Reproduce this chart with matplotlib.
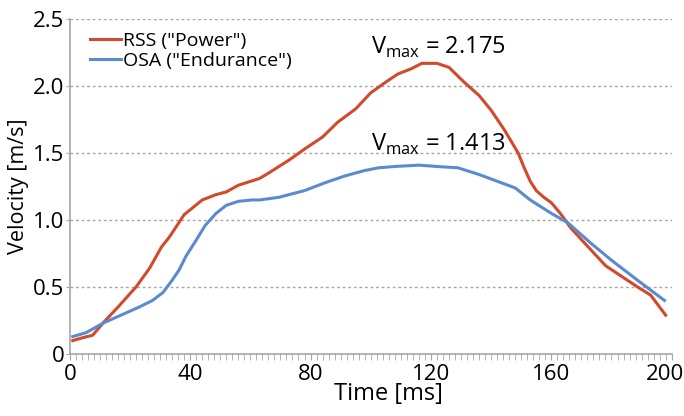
import matplotlib
matplotlib.use("Agg")
import matplotlib.pyplot as plt
from matplotlib.ticker import MultipleLocator
import matplotlib.transforms as mtransforms

plt.rcParams['font.family'] = ['Open Sans', 'DejaVu Sans']

# RSS ("Power") curve
t_rss = [1, 4, 7.6, 11, 16, 22, 26.5, 30.5, 33, 38, 44, 48.6, 52, 56, 63, 66, 73, 78,
         84, 89, 95, 100, 105, 109, 113.5, 117, 122, 126, 131, 136, 140, 144.5, 149,
         151, 153, 155, 157.5, 160, 163, 166.5, 171, 178, 184, 188.7, 193, 195, 198]
v_rss = [0.10, 0.12, 0.14, 0.23, 0.35, 0.50, 0.64, 0.80, 0.87, 1.04, 1.15, 1.19, 1.21,
         1.26, 1.31, 1.35, 1.45, 1.53, 1.62, 1.73, 1.83, 1.95, 2.03, 2.09, 2.13, 2.17,
         2.17, 2.14, 2.03, 1.93, 1.82, 1.67, 1.50, 1.39, 1.29, 1.22, 1.17, 1.13, 1.05,
         0.94, 0.83, 0.66, 0.57, 0.50, 0.44, 0.38, 0.29]

# OSA ("Endurance") curve
t_osa = [1, 5.5, 11, 19, 23, 27.5, 31, 34, 36.4, 38.6, 42, 45, 48.6, 52, 56, 60.6, 63,
         69.5, 78, 85, 91.5, 98, 102.6, 108, 116, 122, 129, 136, 142, 148, 153, 160,
         165.5, 173, 180, 188.7, 197.6]
v_osa = [0.13, 0.16, 0.23, 0.31, 0.35, 0.40, 0.46, 0.55, 0.63, 0.73, 0.85, 0.96, 1.05,
         1.11, 1.14, 1.15, 1.15, 1.17, 1.22, 1.28, 1.33, 1.37, 1.39, 1.40, 1.41, 1.40,
         1.39, 1.34, 1.29, 1.24, 1.15, 1.05, 0.98, 0.83, 0.70, 0.55, 0.40]

x_ticks = [0, 40, 80, 120, 160, 200]
y_ticks = [0, 0.5, 1.0, 1.5, 2.0, 2.5]
y_labels = ["0", "0.5", "1.0", "1.5", "2.0", "2.5"]

fig = plt.figure(figsize=(6.84, 4.16), dpi=100)
ax = fig.add_axes([0.102, 0.149, 0.880, 0.805])

ax.plot(t_rss, v_rss, color="#d04a2b", lw=2.2, label='RSS ("Power")')
ax.plot(t_osa, v_osa, color="#5a8bd0", lw=2.2, label='OSA ("Endurance")')

ax.set_xlim(0, 199.5)
ax.set_ylim(0, 2.5)
ax.set_xticks(x_ticks)
ax.set_yticks(y_ticks)
ax.set_yticklabels(y_labels)
ax.xaxis.set_minor_locator(MultipleLocator(2))

for y in y_ticks[1:]:
    ax.axhline(y, color="#a6a6a6", lw=1, ls=(0, (2, 2)), zorder=0)

for s in ["top", "right"]:
    ax.spines[s].set_visible(False)
for s in ["left", "bottom"]:
    ax.spines[s].set_color("#a6a6a6")
    ax.spines[s].set_linewidth(1.2)

ax.tick_params(axis="x", which="both", direction="out", length=4, color="#a6a6a6",
               labelsize=16, pad=3)
ax.tick_params(axis="y", direction="out", length=3, color="#a6a6a6",
               labelsize=16, pad=1)

# last label pushed inside the figure like the original
lbls = ax.get_xticklabels()
lbls[-1].set_horizontalalignment("right")
lbls[-1].set_transform(lbls[-1].get_transform() +
                       mtransforms.ScaledTranslation(0.12, 0, fig.dpi_scale_trans))

ax.set_xlabel("Time [ms]", fontsize=17)
ax.set_ylabel("Velocity [m/s]", fontsize=15.5)
ax.xaxis.set_label_coords(0.53, -0.085)
ax.yaxis.set_label_coords(-0.068, 0.5)

ax.legend(loc="upper left", bbox_to_anchor=(0.02, 0.985), frameon=False, fontsize=14,
          handlelength=1.6, handletextpad=0.1, labelspacing=0.1, borderaxespad=0)

ax.text(100, 2.24, r"V$_{\mathregular{max}}$ = 2.175", fontsize=17)
ax.text(100, 1.52, r"V$_{\mathregular{max}}$ = 1.413", fontsize=17)

fig.savefig("out.png", dpi=100)
